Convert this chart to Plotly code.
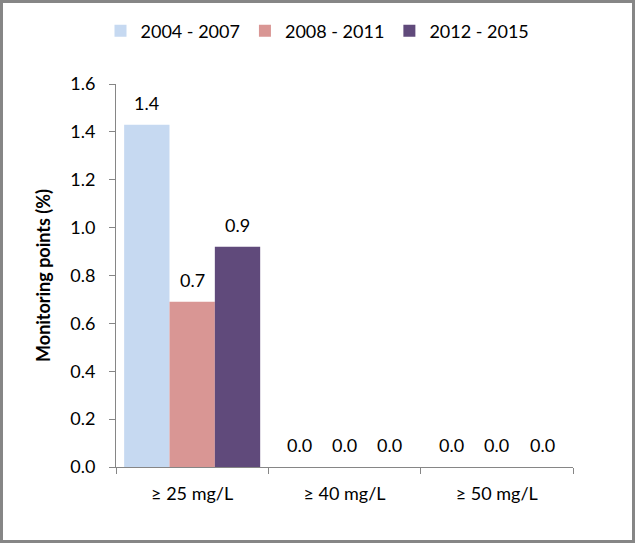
import plotly.graph_objects as go

categories = ["≥ 25 mg/L", "≥ 40 mg/L", "≥ 50 mg/L"]
series_names = ["2004 - 2007", "2008 - 2011", "2012 - 2015"]
values_2004_2007 = [1.43, 0.0, 0.0]
values_2008_2011 = [0.69, 0.0, 0.0]
values_2012_2015 = [0.92, 0.0, 0.0]
colors = ["#c6d9f1", "#d99694", "#604a7b"]
y_ticks = [0.0, 0.2, 0.4, 0.6, 0.8, 1.0, 1.2, 1.4, 1.6]

W, H = 635, 543
L, R, T, B = 116, 62, 84, 76
FONT = "Lato"
FS = 18
BARGAP = 0.107

series = [values_2004_2007, values_2008_2011, values_2012_2015]
fig = go.Figure()
for name, vals, col in zip(series_names, series, colors):
    fig.add_trace(go.Bar(
        x=categories, y=vals, name=name, marker_color=col, marker_line_width=0,
    ))

# value labels above bars
bar_w = (1 - BARGAP) / len(series)
for i, vals in enumerate(series):
    for j, v in enumerate(vals):
        fig.add_annotation(
            x=j + (i - (len(series) - 1) / 2) * bar_w, y=v,
            text=f"{v:.1f}", showarrow=False, yanchor="bottom", yshift=9,
            font=dict(family=FONT, size=FS, color="#000000"),
        )

pw = W - L - R
ph = H - T - B
fig.add_shape(type="rect", xref="paper", yref="paper",
              x0=-(L - 1.5) / pw, x1=1 + (R - 1.5) / pw,
              y0=-(B - 1.5) / ph, y1=1 + (T - 1.5) / ph,
              line=dict(color="#868686", width=3), fillcolor="rgba(0,0,0,0)")

fig.update_layout(
    width=W, height=H,
    margin=dict(l=L, r=R, t=T, b=B, pad=0),
    paper_bgcolor="white", plot_bgcolor="white",
    barmode="group", bargap=BARGAP, bargroupgap=0,
    font=dict(family=FONT, size=FS, color="#000000"),
    showlegend=True,
    legend=dict(orientation="h", x=(W / 2 - L) / pw, xanchor="center", y=1 + (T - 31) / ph, yanchor="middle",
                font=dict(family=FONT, size=FS), itemwidth=30, traceorder="normal"),
    xaxis=dict(showline=True, linecolor="#868686", linewidth=1, ticks="outside",
               tickson="boundaries", ticklen=6, tickcolor="#868686", showgrid=False,
               tickfont=dict(family=FONT, size=FS), zeroline=False,
               ticklabelstandoff=10, range=[-0.5, 2.5]),
    yaxis=dict(range=[0, 1.6], tickvals=y_ticks, ticktext=[f"{v:.1f}" for v in y_ticks],
               showline=True, linecolor="#868686", linewidth=1, ticks="outside",
               ticklen=6, tickcolor="#868686", showgrid=False, zeroline=False,
               tickfont=dict(family=FONT, size=FS), ticklabelstandoff=10,
               title=dict(text="<b>Monitoring points (%)</b>", font=dict(family=FONT, size=FS), standoff=14)),
)

fig.write_html("out.html", config={"displayModeBar": False},
               post_script="document.body.style.margin='0';document.body.style.overflow='hidden';")
